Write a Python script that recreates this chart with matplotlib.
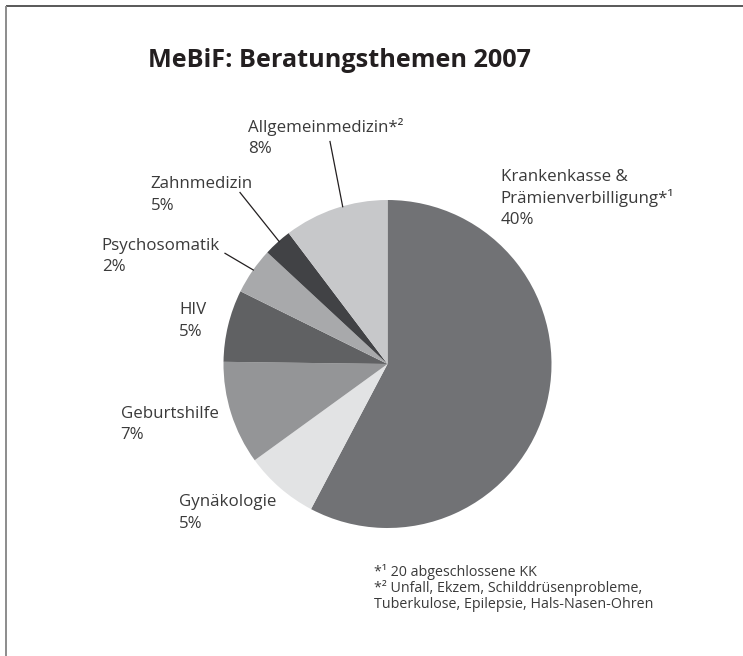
import matplotlib.pyplot as plt

plt.rcParams['font.family'] = ['Open Sans', 'DejaVu Sans']

# Wedge shares, clockwise from 12 o'clock
themen = ['Krankenkasse', 'Gynäkologie', 'Geburtshilfe', 'HIV',
          'Psychosomatik', 'Zahnmedizin', 'Allgemeinmedizin']
anteile = [57.75, 7.3, 10.2, 7.1, 4.6, 2.8, 10.3]
farben = ['#717275', '#e2e3e4', '#949597', '#606163',
          '#a8a9ab', '#414245', '#c7c8ca']

# Label texts as printed on the chart
labels = ['Krankenkasse &\nPrämienverbilligung*¹\n40%',
          'Gynäkologie\n5%',
          'Geburtshilfe\n7%',
          'HIV\n5%',
          'Psychosomatik\n2%',
          'Zahnmedizin\n5%',
          'Allgemeinmedizin*²\n8%']
fussnoten = ['*¹ 20 abgeschlossene KK',
             '*² Unfall, Ekzem, Schilddrüsenprobleme,',
             'Tuberkulose, Epilepsie, Hals-Nasen-Ohren']

W, H = 743, 656
fig = plt.figure(figsize=(W / 100, H / 100), dpi=100)
ax = fig.add_axes([0, 0, 1, 1])


def py(y):
    # pixel row (from top) -> data y
    return H - y


ax.pie(anteile, colors=farben, startangle=90, counterclock=False,
       center=(387.5, py(364)), radius=164,
       wedgeprops=dict(linewidth=0))
ax.set_xlim(0, W)
ax.set_ylim(0, H)
ax.set_aspect('equal')
ax.axis('off')

# frame (top and left edges only)
ax.plot([5.5, W], [py(5.5), py(5.5)], color='#2b2b2b', lw=1.1, solid_capstyle='butt')
ax.plot([5.8, 5.8], [py(5.5), 0], color='#8c8c8c', lw=1.4, solid_capstyle='butt')

ax.text(148, py(67), 'MeBiF: Beratungsthemen 2007', fontsize=18.2,
        fontweight='bold', color='#231f20', va='baseline', ha='left')

# label anchor: left x, first baseline (pixels)
pos = [(500.7, 181), (179.3, 506), (120.7, 417.5), (179.3, 314),
       (101.7, 249.5), (150.7, 188), (248, 131.5)]
zeilen = 21.7
for (x, y0), lab in zip(pos, labels):
    for i, line in enumerate(lab.split('\n')):
        ax.text(x, py(y0 + i * zeilen), line, fontsize=12.2, color='#3a3a3a',
                va='baseline', ha='left')

# leader lines
leader = [((330, 141.5), (342.7, 206.7)),
          ((240, 192.5), (279.3, 241.7)),
          ((225, 253.3), (253.3, 270))]
for (x1, y1), (x2, y2) in leader:
    ax.plot([x1, x2], [py(y1), py(y2)], color='#231f20', lw=0.9)

for i, line in enumerate(fussnoten):
    ax.text(374, py(576 + i * 16), line, fontsize=10.3, color='#3a3a3a',
            va='baseline', ha='left')

fig.savefig('out.png', dpi=100)
